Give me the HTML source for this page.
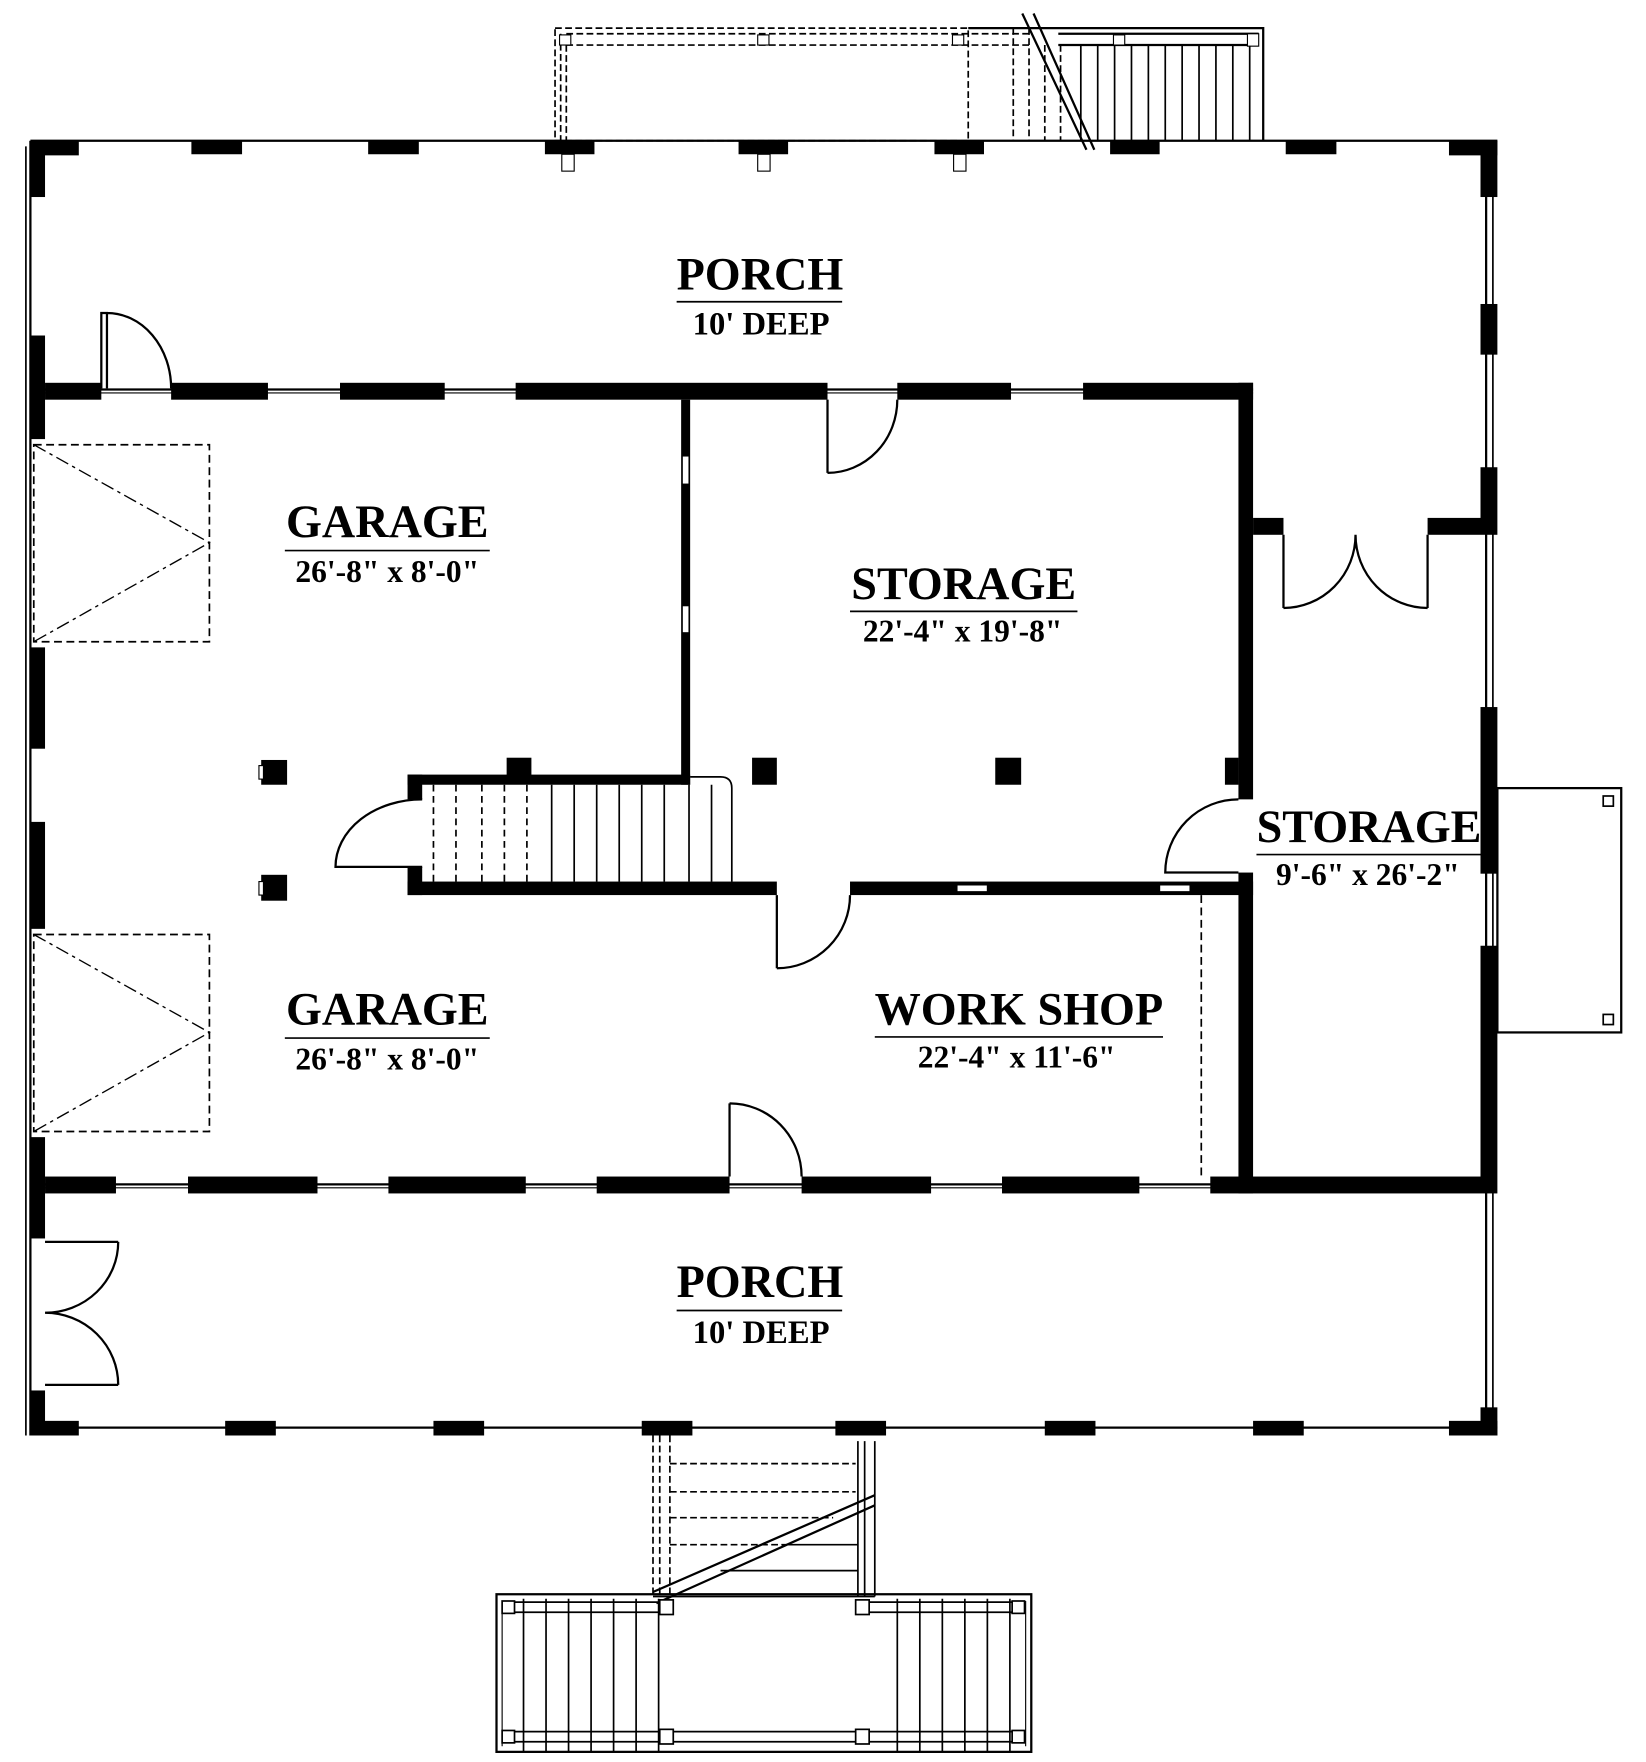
<!DOCTYPE html>
<html><head><style>html,body{margin:0;padding:0;background:#fff}svg{display:block}
text{font-family:"Liberation Serif",serif;font-weight:bold;fill:#000;text-anchor:middle}</style></head>
<body>
<svg width="1646" height="1762" viewBox="0 0 1462 1565" preserveAspectRatio="none" xmlns="http://www.w3.org/2000/svg">
<rect width="1462" height="1565" fill="#fff"/>
<g stroke="#000" fill="none">
<g stroke-dasharray="6,3" stroke-width="1.5">
<rect x="493" y="25" width="367" height="100"/>
<path d="M498 30 V125 M503 40 V125 M503 30 H915 M503 40 H915 M900 25 V125 M914 25 V125 M928 40 V125 M942 40 V125"/>
</g>
<path d="M860 25 H1122 V125" stroke-width="2"/>
<path d="M940 40 H1118 M940 30 H1118" stroke-width="2"/>
<g stroke-width="1.5"><path d="M960 40V125M975 40V125M990 40V125M1005 40V125M1020 40V125M1035 40V125M1050 40V125M1065 40V125M1080 40V125M1095 40V125M1110 40V125"/></g>
<path d="M908 12 L965 133 M918 12 L972 133" stroke-width="2"/>
<rect x="497" y="31" width="10" height="9" fill="#fff"/><rect x="673" y="31" width="10" height="9" fill="#fff"/><rect x="846" y="31" width="10" height="9" fill="#fff"/><rect x="989" y="31" width="10" height="9" fill="#fff"/><rect x="1108" y="30" width="10" height="11" fill="#fff"/>
<rect x="499" y="137" width="11" height="15"/><rect x="673" y="137" width="11" height="15"/><rect x="847" y="137" width="11" height="15"/>
<path d="M27 125 H1330 M27 125 V1275 M1320 125 V1275 M27 1268 H1330" stroke-width="2"/>
<path d="M23 130 V1275" stroke-width="1.5"/>
<path d="M1326 125 V1275" stroke-width="1.5"/>
<path d="M40 346 H1113 M40 1052 H1315" stroke-width="2"/>
<path d="M40 349 H1113 M40 1055 H1315" stroke-width="1"/>
<g stroke-width="1.5" stroke-dasharray="7,4"><rect x="30" y="395" width="156" height="175"/><rect x="30" y="830" width="156" height="175"/></g>
<g stroke-width="1.2" stroke-dasharray="12,4,3,4"><path d="M30 395 L186 482 L30 570 M30 830 L186 917 L30 1005"/></g>
<g stroke-width="2">
<path d="M90 345 V278 H95 V345 M95 278 A57 67 0 0 1 152 345"/>
<path d="M735 355 V420 M735 420 A62 65 0 0 0 797 355"/>
<path d="M1140 475 V540 M1140 540 A64 65 0 0 0 1204 475 M1268 475 V540 M1268 540 A64 65 0 0 1 1204 475"/>
<path d="M375 710 A77 60 0 0 0 298 770 H375"/>
<path d="M690 795 V860 M690 860 A65 65 0 0 0 755 795"/>
<path d="M1100 710 A65 65 0 0 0 1035 775 H1100"/>
<path d="M648 1045 V980 M648 980 A64 65 0 0 1 712 1045"/>
<path d="M40 1103 H105 V1103 M105 1103 A65 63 0 0 1 40 1166 M40 1230 H105 M105 1230 A65 64 0 0 0 40 1166"/>
</g>
<g stroke-width="1.5"><path d="M613 690 H640 Q650 690 650 700 V783"/>
<path d="M490 697V783M510 697V783M530 697V783M550 697V783M570 697V783M590 697V783M612 697V783M632 697V783"/></g>
<g stroke-width="1.5" stroke-dasharray="6,4"><path d="M385 697V783M405 697V783M428 697V783M448 697V783M468 697V783"/></g>
<path d="M1067 795 V1045" stroke-width="1.5" stroke-dasharray="7,4"/>
<rect x="1330" y="700" width="110" height="217" stroke-width="2"/>
<rect x="1424" y="707" width="9" height="9" stroke-width="1.5"/><rect x="1424" y="901" width="9" height="9" stroke-width="1.5"/>
<g stroke-width="1.5" stroke-dasharray="6,3"><path d="M580 1275 V1418 M586 1275 V1418 M595 1275 V1418 M595 1300 H760 M595 1325 H760 M595 1348 H740 M595 1372 H700"/></g>
<g stroke-width="1.5"><path d="M762 1280 V1418 M768 1280 V1418 M777 1280 V1418 M700 1372 H762 M640 1395 H762 M580 1418 H777"/></g>
<path d="M580 1414 L777 1328 M583 1424 L777 1337" stroke-width="2"/>
<rect x="441" y="1416" width="475" height="140" stroke-width="2"/>
<path d="M446 1422 V1551 M911 1422 V1551" stroke-width="1"/>
<g stroke-width="1.5"><path d="M465 1420V1556M485 1420V1556M505 1420V1556M525 1420V1556M545 1420V1556M565 1420V1556M585 1420V1556M797 1420V1556M817 1420V1556M837 1420V1556M857 1420V1556M877 1420V1556M897 1420V1556"/></g>
<path d="M450 1423 H590 M450 1432 H590 M770 1423 H910 M770 1432 H910 M450 1538 H910 M450 1547 H910" stroke-width="1.5"/>
<g fill="#fff" stroke-width="1.5"><rect x="446" y="1422" width="11" height="11"/><rect x="586" y="1421" width="12" height="13"/><rect x="760" y="1421" width="12" height="13"/><rect x="899" y="1422" width="11" height="11"/>
<rect x="446" y="1537" width="11" height="11"/><rect x="586" y="1536" width="12" height="13"/><rect x="760" y="1536" width="12" height="13"/><rect x="899" y="1537" width="11" height="11"/></g>
</g>
<g fill="#000">
<rect x="27" y="125" width="43" height="13"/><rect x="27" y="125" width="13" height="50"/>
<rect x="170" y="125" width="45" height="12"/><rect x="327" y="125" width="45" height="12"/><rect x="484" y="125" width="44" height="12"/><rect x="656" y="125" width="44" height="12"/><rect x="830" y="125" width="44" height="12"/><rect x="986" y="125" width="44" height="12"/><rect x="1142" y="125" width="45" height="12"/>
<rect x="1287" y="125" width="43" height="13"/><rect x="1315" y="125" width="15" height="50"/>
<rect x="27" y="298" width="13" height="92"/><rect x="27" y="575" width="13" height="90"/><rect x="27" y="730" width="13" height="95"/><rect x="27" y="1010" width="13" height="90"/><rect x="27" y="1235" width="13" height="40"/>
<rect x="1315" y="270" width="15" height="45"/><rect x="1315" y="415" width="15" height="60"/><rect x="1315" y="628" width="15" height="148"/><rect x="1315" y="840" width="15" height="220"/><rect x="1315" y="1250" width="15" height="25"/>
<rect x="27" y="1262" width="43" height="13"/><rect x="200" y="1262" width="45" height="13"/><rect x="385" y="1262" width="45" height="13"/><rect x="570" y="1262" width="45" height="13"/><rect x="742" y="1262" width="45" height="13"/><rect x="928" y="1262" width="45" height="13"/><rect x="1113" y="1262" width="45" height="13"/><rect x="1287" y="1262" width="43" height="13"/>
<rect x="40" y="340" width="50" height="15"/><rect x="152" y="340" width="86" height="15"/><rect x="302" y="340" width="93" height="15"/><rect x="458" y="340" width="277" height="15"/><rect x="797" y="340" width="101" height="15"/><rect x="962" y="340" width="151" height="15"/>
<rect x="605" y="355" width="8" height="342"/>
<rect x="1100" y="340" width="13" height="370"/>
<rect x="1100" y="775" width="13" height="285"/>
<rect x="1113" y="460" width="27" height="15"/><rect x="1268" y="460" width="47" height="15"/>
<rect x="362" y="688" width="251" height="9"/><rect x="362" y="688" width="13" height="22"/><rect x="362" y="770" width="13" height="25"/>
<rect x="362" y="783" width="328" height="12"/><rect x="755" y="783" width="358" height="12"/>
<rect x="232" y="675" width="23" height="22"/><rect x="232" y="777" width="23" height="23"/><rect x="450" y="673" width="22" height="17"/><rect x="668" y="673" width="22" height="24"/><rect x="884" y="673" width="23" height="24"/><rect x="1088" y="673" width="12" height="24"/>
<rect x="40" y="1045" width="63" height="15"/><rect x="167" y="1045" width="115" height="15"/><rect x="345" y="1045" width="122" height="15"/><rect x="530" y="1045" width="118" height="15"/><rect x="712" y="1045" width="115" height="15"/><rect x="890" y="1045" width="122" height="15"/><rect x="1075" y="1045" width="240" height="15"/>
</g>
<g fill="#fff" stroke="#000" stroke-width="1"><rect x="606" y="405" width="6" height="25"/><rect x="606" y="538" width="6" height="24"/><rect x="850" y="786" width="27" height="6"/><rect x="1030" y="786" width="27" height="6"/><rect x="230" y="680" width="4" height="12"/><rect x="230" y="783" width="4" height="12"/></g>
<g>
<text x="675" y="257" font-size="41">PORCH</text><line x1="601" y1="268" x2="748" y2="268" stroke="#000" stroke-width="1.5"/><text x="676" y="297" font-size="29" font-weight="normal">10' DEEP</text>
<text x="344" y="477" font-size="41">GARAGE</text><line x1="253" y1="489" x2="435" y2="489" stroke="#000" stroke-width="1.5"/><text x="344" y="517" font-size="28">26'-8" x 8'-0"</text>
<text x="856" y="532" font-size="41">STORAGE</text><line x1="755" y1="543" x2="957" y2="543" stroke="#000" stroke-width="1.5"/><text x="855" y="570" font-size="28">22'-4" x 19'-8"</text>
<text x="1216" y="748" font-size="41">STORAGE</text><line x1="1116" y1="759" x2="1316" y2="759" stroke="#000" stroke-width="1.5"/><text x="1215" y="786" font-size="28">9'-6" x 26'-2"</text>
<text x="905" y="910" font-size="41">WORK SHOP</text><line x1="777" y1="921" x2="1033" y2="921" stroke="#000" stroke-width="1.5"/><text x="903" y="948" font-size="28">22'-4" x 11'-6"</text>
<text x="344" y="910" font-size="41">GARAGE</text><line x1="253" y1="922" x2="435" y2="922" stroke="#000" stroke-width="1.5"/><text x="344" y="950" font-size="28">26'-8" x 8'-0"</text>
<text x="675" y="1152" font-size="41">PORCH</text><line x1="601" y1="1164" x2="748" y2="1164" stroke="#000" stroke-width="1.5"/><text x="676" y="1193" font-size="29" font-weight="normal">10' DEEP</text>
</g>
</svg>
</body></html>
